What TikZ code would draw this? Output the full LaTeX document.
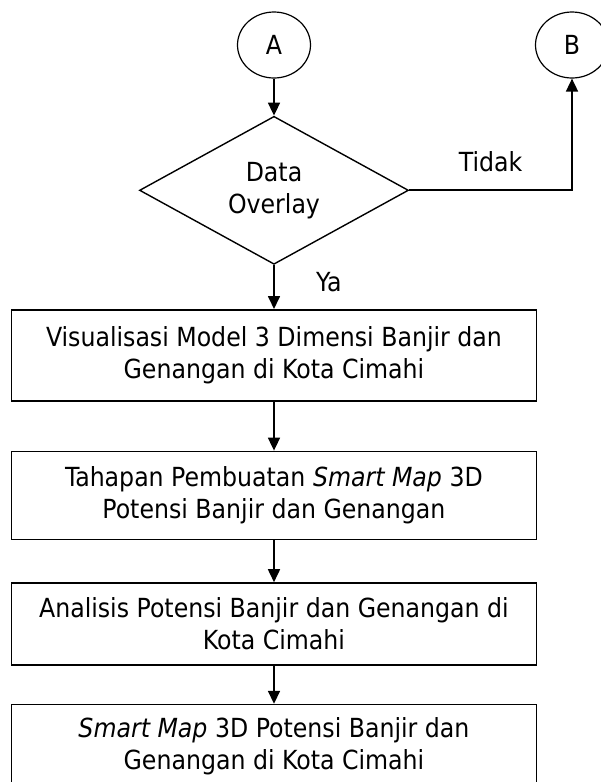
\documentclass[tikz,border=0pt]{standalone}
\usepackage{fontspec}
\setmainfont{DejaVu Sans Condensed}
\usetikzlibrary{arrows.meta,shapes.geometric,positioning}

\begin{document}
\begin{tikzpicture}[
  x=1pt, y=1pt,
  font=\fontsize{26.3}{32}\selectfont,
  >={Triangle[width=12pt,length=13pt]},
  every node/.style={align=center},
  arr/.style={->, draw=black, line width=1.7pt},
  connector/.style={ellipse, draw, line width=1.2pt, minimum width=73pt, minimum height=66pt, inner sep=0pt},
  decision/.style={diamond, draw, line width=1.4pt, aspect=1.8, minimum width=269pt, minimum height=148pt, inner sep=0pt},
  procbox/.style={rectangle, draw, line width=1.6pt, minimum width=525pt, minimum height=#1, inner sep=0pt}
]
  \useasboundingbox (0,0) rectangle (600,-782);

  % Off-page connectors
  \node[connector] (conA) at (274,-45) {A};
  \node[connector] (conB) at (572,-45) {B};

  % Decision: data overlay
  \node[decision, below=37pt of conA] (overlay) {Data\\Overlay};

  % Process steps
  \node[procbox=91pt, below=44pt of overlay] (visual) {
    Visualisasi Model 3 Dimensi Banjir dan\\
    Genangan di Kota Cimahi
  };
  \node[procbox=88pt, below=49pt of visual] (tahap) {
    Tahapan Pembuatan \textit{Smart Map} 3D\\
    Potensi Banjir dan Genangan
  };
  \node[procbox=82pt, below=42pt of tahap] (analisis) {
    Analisis Potensi Banjir dan Genangan di\\
    Kota Cimahi
  };
  \node[procbox=84pt, below=38pt of analisis] (smartmap) {
    \textit{Smart Map} 3D Potensi Banjir dan\\
    Genangan di Kota Cimahi
  };

  % Connecting arrows
  \draw[arr] (conA) -- (overlay);
  \draw[arr] (overlay) -- (visual) node[midway, right=38pt, yshift=5pt] (ya) {Ya};
  \draw[arr] (overlay.east) -| (conB) node[pos=0.25, above=14pt] (tidak) {Tidak};
  \draw[arr] (visual) -- (tahap);
  \draw[arr] (tahap) -- (analisis);
  \draw[arr] (analisis) -- (smartmap);

\end{tikzpicture}
\end{document}
